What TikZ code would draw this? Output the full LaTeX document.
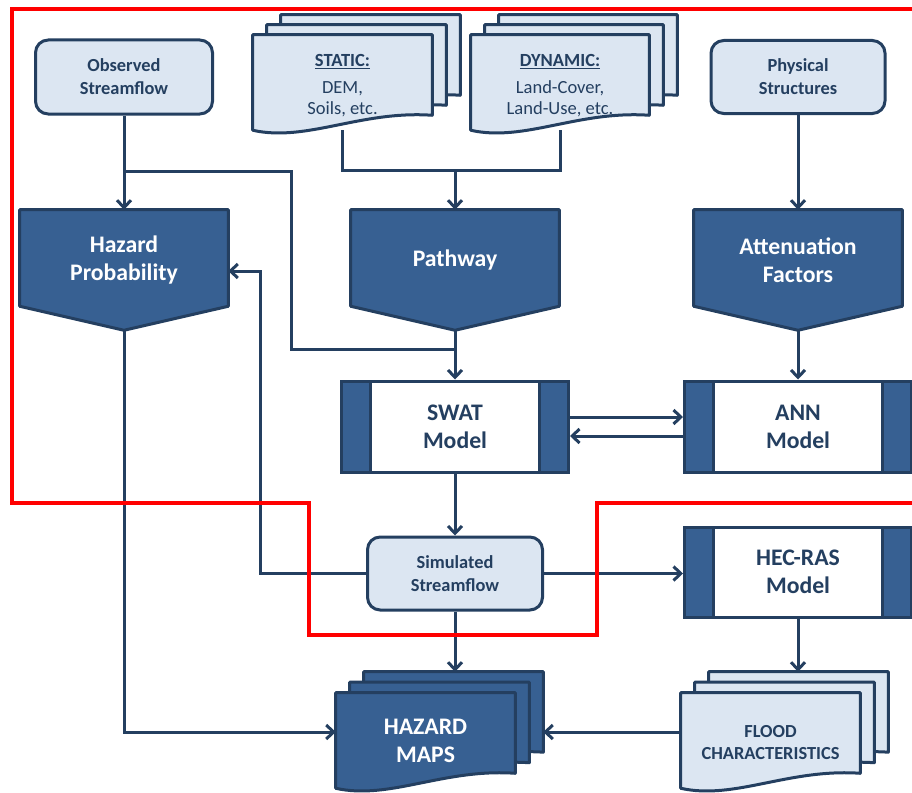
\documentclass[tikz,border=0pt]{standalone}
\usepackage{fontspec}
\setmainfont{Carlito}
\usetikzlibrary{arrows.meta,calc}

\definecolor{navy}{HTML}{243F60}
\definecolor{deepblue}{HTML}{376092}
\definecolor{paleblue}{HTML}{DCE6F2}
\definecolor{redline}{HTML}{FF0000}

\pgfdeclarelayer{links}
\pgfdeclarelayer{shapes}
\pgfsetlayers{links,shapes,main}

\newcommand{\fsmall}{\fontsize{13.8}{17.25}\selectfont\bfseries}
\newcommand{\fbig}{\fontsize{17.8}{21}\selectfont\bfseries}
\newcommand{\fdoc}{\fontsize{13.9}{16.2}\selectfont}
\newcommand{\fflood}{\fontsize{13.8}{16.5}\selectfont\bfseries}

% three stacked pages with a wavy lower edge, drawn behind node #1
\newcommand{\docstack}[4]{%
  \foreach \k in {2,1,0}{%
    \path[#2] let \p1=(#1.north west), \p2=(#1.south east) in
      ({\x1+\k*#3},{\y1+\k*#4}) -- ({\x2+\k*#3},{\y1+\k*#4})
      -- ({\x2+\k*#3},{\y2+11.25pt+\k*#4})
      .. controls ({\x1+0.6*(\x2-\x1)+\k*#3},{\y2+15pt+\k*#4})
      and ({\x1+0.3*(\x2-\x1)+\k*#3},{\y2-9pt+\k*#4})
      .. ({\x1+\k*#3},{\y2+\k*#4}) -- cycle;
  }%
}

\tikzset{
  sz/.style 2 args={minimum width=#1*0.75pt, minimum height=#2*0.75pt},
  base/.style={inner sep=0pt, align=center, text=navy},
  roundbox/.style={base, draw=navy, fill=paleblue, line width=2.25pt,
    rounded corners=9.5pt, font=\fsmall},
  modelbox/.style={base, draw=navy, fill=white, line width=2.25pt, font=\fbig,
    path picture={
      \fill[deepblue] (path picture bounding box.north west) rectangle
        ([xshift=21.5pt]path picture bounding box.south west);
      \fill[deepblue] ([xshift=-21.5pt]path picture bounding box.north east) rectangle
        (path picture bounding box.south east);
      \draw[navy, line width=2.25pt]
        ([xshift=21.5pt]path picture bounding box.north west) --
        ([xshift=21.5pt]path picture bounding box.south west);
      \draw[navy, line width=2.25pt]
        ([xshift=-21.5pt]path picture bounding box.north east) --
        ([xshift=-21.5pt]path picture bounding box.south east);
    }},
  pentabox/.style={base},
  pentatext/.style={base, text=white, font=\fbig},
  docbox/.style={base},
  pentashape/.style={draw=navy, fill=deepblue, line width=2.25pt, line join=round},
  darkdoc/.style={draw=navy, fill=deepblue, line width=2.25pt, line join=round},
  lightdoc/.style={draw=navy, fill=paleblue, line width=2.25pt, line join=round},
  link/.style={draw=navy, line width=2.25pt},
  arrow/.style={link, -{Straight Barb[length=5.5pt,width=10.5pt]}},
  boundary/.style={draw=redline, line width=3pt},
}

\begin{document}
\begin{tikzpicture}[x=0.75pt,y=-0.75pt]
\useasboundingbox (0,0) rectangle (912,792);

% data sources
\node[roundbox, sz={177}{74}] (obs) at (124,77) {Observed\\Streamflow};
\node[roundbox, sz={174}{73}] (phys) at (798,77) {Physical\\Structures};
\node[docbox, sz={179}{95}] (st) at (342.5,82.5) {};
\node[docbox, sz={178}{95}] (dy) at (560,82.5) {};
\node[docbox, font=\fdoc] (st-text) at (342.5,85.5)
  {\textbf{\underline{STATIC:}}\\[4pt]DEM,\\Soils, etc.};
\node[docbox, font=\fdoc] (dy-text) at (560,85.5)
  {\textbf{\underline{DYNAMIC:}}\\[4pt]Land-Cover,\\Land-Use, etc.};

% hazard components
\node[pentabox, sz={208}{96}] (hp) at (124,258) {};
\node[pentabox, sz={208}{96}] (pw) at (455,258) {};
\node[pentabox, sz={208}{96}] (af) at (798,258) {};
\node[pentatext] (hp-text) at (124,260.5) {Hazard\\Probability};
\node[pentatext] (pw-text) at (455,260.5) {Pathway};
\node[pentatext] (af-text) at (798,260) {Attenuation\\Factors};
\coordinate (hp-tip) at ($(hp.south)+(0,24)$);
\coordinate (pw-tip) at ($(pw.south)+(0,24)$);
\coordinate (af-tip) at ($(af.south)+(0,24)$);

% models
\node[modelbox, sz={227}{91}] (swat) at (455,426.5) {SWAT\\Model};
\node[modelbox, sz={227}{91}] (ann) at (798,426.5) {ANN\\Model};
\node[modelbox, sz={227}{90}] (hec) at (798,572) {HEC-RAS\\Model};
\node[roundbox, sz={175}{73}] (sim) at (455,573.5) {Simulated\\Streamflow};

% outputs
\node[docbox, sz={179}{95}, text=white, font=\fbig] (hm) at (425.5,740.5) {HAZARD\\MAPS};
\node[docbox, sz={179}{95}] (fc) at (770.5,740.5) {};
\node[docbox, font=\fflood] (fc-text) at (770.5,742.5) {FLOOD\\CHARACTERISTICS};
\coordinate (hm-top) at ($(hm.north)+(0,-21)$);
\coordinate (fc-top) at ($(fc.north)+(0,-21)$);
\coordinate (hm-back) at ($(hm.east)+(28,0)$);

\begin{pgfonlayer}{shapes}
  \foreach \n in {hp,pw,af}{
    \path[pentashape] (\n.north west) -- (\n.north east) -- (\n.south east)
      -- ($(\n.south)+(0,24)$) -- (\n.south west) -- cycle;
  }
  \docstack{st}{lightdoc}{10.5pt}{7.5pt}
  \docstack{dy}{lightdoc}{10.5pt}{7.5pt}
  \docstack{hm}{darkdoc}{10.5pt}{7.9pt}
  \docstack{fc}{lightdoc}{10.5pt}{7.9pt}
\end{pgfonlayer}

\begin{pgfonlayer}{links}
  \draw[arrow] (obs.south) -- (hp.north);
  \coordinate (b1) at (291,171);
  \coordinate (b2) at (291,349);
  \draw[link] (obs.south |- b1) -- (b1) -- (b2) -- (b2 -| swat.north);
  \coordinate (b3) at (455,170);
  \draw[link] (st.south) |- (b3) -| (dy.south);
  \draw[arrow] (b3) -- (pw.north);
  \draw[arrow] (pw-tip) -- (swat.north);
  \draw[arrow] (phys.south) -- (af.north);
  \draw[arrow] (af-tip) -- (ann.north);
  \draw[arrow] ($(swat.east)+(0,-9.5)$) -- ($(ann.west)+(0,-9.5)$);
  \draw[arrow] ($(ann.west)+(0,9.5)$) -- ($(swat.east)+(0,9.5)$);
  \draw[arrow] (swat.south) -- (sim.north);
  \coordinate (b4) at (260,271);
  \draw[arrow] (sim.west) -| (b4) -- (b4 -| hp.east);
  \draw[arrow] (sim.east) -- (sim.east -| hec.west);
  \draw[arrow] (hec.south) -- (hec.south |- fc-top);
  \draw[arrow] (sim.south) -- (sim.south |- hm-top);
  \coordinate (b5) at (hp-tip |- 0,732);
  \draw[arrow] (hp-tip) -- (b5) -- (b5 -| hm.west);
  \draw[arrow] (fc.west |- b5) -- (hm-back |- b5);
\end{pgfonlayer}

% study-area boundary
\draw[boundary] (930,9) -- (12,9) -- (12,503) -- (309,503) -- (309,635)
  -- (597,635) -- (597,503) -- (930,503);
\end{tikzpicture}
\end{document}
